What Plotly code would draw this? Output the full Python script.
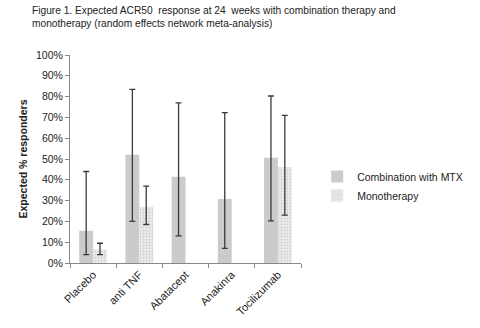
import plotly.graph_objects as go

categories = ["Placebo", "anti TNF", "Abatacept", "Anakinra", "Tocilizumab"]
combo = [15.5, 52.0, 41.5, 30.8, 50.6]
combo_lo = [4.0, 20.0, 13.0, 7.0, 20.3]
combo_hi = [44.0, 83.5, 77.0, 72.3, 80.3]
mono_cats = ["Placebo", "anti TNF", "Tocilizumab"]
mono = [6.5, 27.0, 46.0]
mono_lo = [4.0, 18.5, 23.0]
mono_hi = [9.5, 37.0, 71.0]

font = "Liberation Sans, Arial, sans-serif"

fig = go.Figure()
fig.add_trace(go.Bar(
    name="Combination with MTX", x=categories, y=combo,
    marker=dict(color="#cbcbcb", line=dict(width=0)),
    error_y=dict(type="data", symmetric=False,
                 array=[h - v for h, v in zip(combo_hi, combo)],
                 arrayminus=[v - l for l, v in zip(combo_lo, combo)],
                 color="#3a3a3a", thickness=1.3, width=3),
))
fig.add_trace(go.Bar(
    name="Monotherapy", x=mono_cats, y=mono,
    marker=dict(color="#ffffff", line=dict(width=0),
                pattern=dict(shape=".", fgcolor="#b8b8b8", bgcolor="#f2f2f2", size=3, solidity=0.5)),
    error_y=dict(type="data", symmetric=False,
                 array=[h - v for h, v in zip(mono_hi, mono)],
                 arrayminus=[v - l for l, v in zip(mono_lo, mono)],
                 color="#3a3a3a", thickness=1.3, width=3),
))

fig.update_layout(
    width=480, height=328,
    margin=dict(l=70, r=150, t=55, b=65),
    paper_bgcolor="white", plot_bgcolor="white",
    barmode="group", bargap=0.40, bargroupgap=0,
    font=dict(family=font, size=10, color="#222"),
    showlegend=True,
    legend=dict(x=1.07, y=0.485, xanchor="left", yanchor="top",
                font=dict(size=10.5, family=font), tracegroupgap=4,
                itemwidth=30, bgcolor="rgba(0,0,0,0)"),
    xaxis=dict(categoryorder="array", categoryarray=categories,
               showline=True, linecolor="#888", linewidth=1, automargin=False,
               ticks="outside", tickson="boundaries", ticklen=4, tickcolor="#888",
               tickangle=-45, tickfont=dict(size=11, family=font)),
    yaxis=dict(range=[0, 100], dtick=10, ticksuffix="%",
               showline=True, linecolor="#888", linewidth=1, automargin=False,
               ticks="outside", ticklen=4, tickcolor="#888",
               showgrid=False, zeroline=False,
               tickfont=dict(size=10.5, family=font),
               title=dict(text="<b>Expected % responders</b>", font=dict(size=10.5, family=font), standoff=6)),
    annotations=[dict(
        text="Figure 1. Expected ACR50  response at 24  weeks with combination therapy and<br>monotherapy (random effects network meta-analysis)",
        xref="paper", yref="paper", x=-0.173, y=1.25, xanchor="left", yanchor="top",
        showarrow=False, align="left", font=dict(size=10.2, family=font, color="#222"))],
)

fig.write_html("out.html")
